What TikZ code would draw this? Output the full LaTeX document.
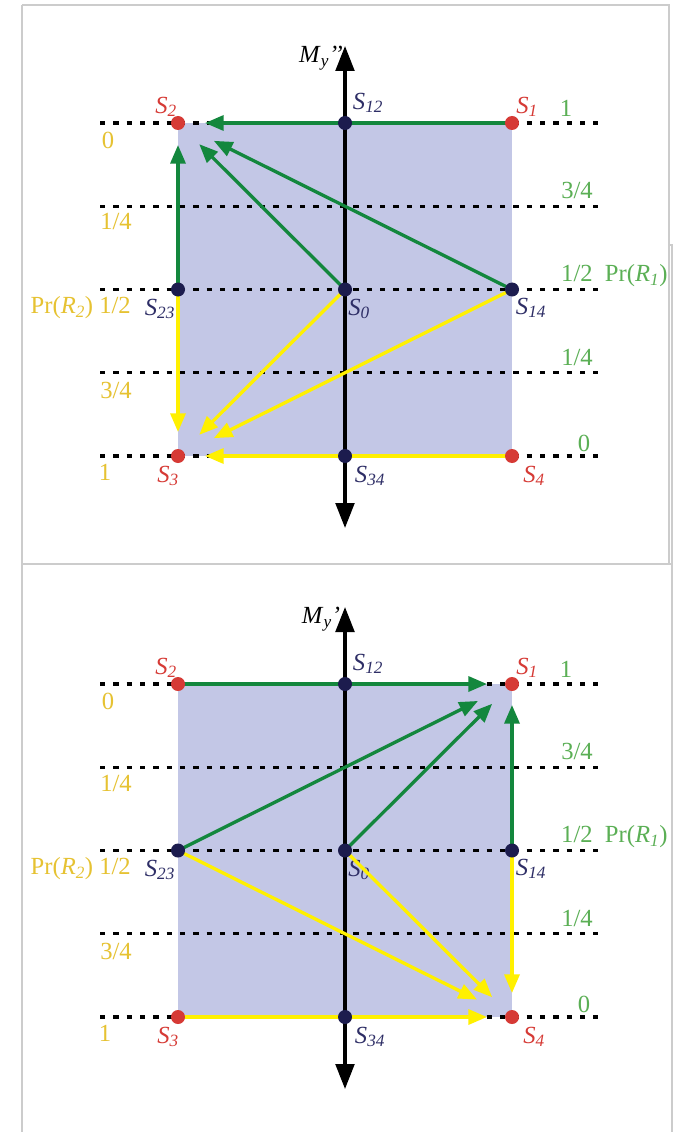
\documentclass[tikz,border=0pt]{standalone}
\usepackage{fontspec}
\setmainfont{Liberation Serif}
\usetikzlibrary{arrows.meta}
\definecolor{sqfill}{HTML}{C3C7E6}
\definecolor{garr}{HTML}{13873D}
\definecolor{yarr}{HTML}{FFF000}
\definecolor{gtxt}{HTML}{5BAF55}
\definecolor{ytxt}{HTML}{E6C232}
\definecolor{redd}{HTML}{D63A35}
\definecolor{navyd}{HTML}{1C1C4E}
\definecolor{navyt}{HTML}{2E2E66}
\definecolor{framec}{HTML}{CCCCCC}
\newcommand\Slab[1]{\textit{S}\textsubscript{\textit{#1}}}
\newcommand\basepanel[2]{%
  \fill[sqfill] (178,123) rectangle (512,456);
  \foreach \yy in {123,206.25,289.5,372.75,456} \draw[dotline] (100,\yy) -- (598,\yy);
  \coordinate (#1S1) at (512,123);
  \coordinate (#1S2) at (178,123);
  \coordinate (#1S3) at (178,456);
  \coordinate (#1S4) at (512,456);
  \coordinate (#1S12) at (345,123);
  \coordinate (#1S34) at (345,456);
  \coordinate (#1S23) at (178,289.5);
  \coordinate (#1S14) at (512,289.5);
  \coordinate (#1S0) at (345,289.5);
  \coordinate (#1top) at (345,46);
  \coordinate (#1bot) at (345,528);
  \draw[axisline] (#1bot) -- (#1top);
  \node[font=\fontsize{21}{25}\selectfont,inner sep=0pt] (#1My) at (321,58) {\textit{M}\textsubscript{\textit{y}}\textit{#2}};
  \node[redt] (#1l2) at (166,107) {\Slab{2}};
  \node[navt] (#1l12) at (368,103) {\Slab{12}};
  \node[redt] (#1l1) at (527,107) {\Slab{1}};
  \node[navt] (#1l23) at (160,309) {\Slab{23}};
  \node[navt] (#1l0) at (359,309) {\Slab{0}};
  \node[navt] (#1l14) at (531,308) {\Slab{14}};
  \node[redt] (#1l3) at (168,476) {\Slab{3}};
  \node[navt] (#1l34) at (370,476) {\Slab{34}};
  \node[redt] (#1l4) at (534,476) {\Slab{4}};
  \node[grt] (#1g1) at (566,108) {1};
  \node[grt] (#1g2) at (577,190) {3/4};
  \node[grt,anchor=west] (#1g3) at (561,276) {1/2\ \ Pr(\textit{R}\textsubscript{\textit{1}})};
  \node[grt] (#1g4) at (577,357) {1/4};
  \node[grt] (#1g5) at (584,443) {0};
  \node[yet] (#1y1) at (108,140) {0};
  \node[yet] (#1y2) at (116,222) {1/4};
  \node[yet,anchor=east] (#1y3) at (131,308) {Pr(\textit{R}\textsubscript{\textit{2}})\ 1/2};
  \node[yet] (#1y4) at (116,390) {3/4};
  \node[yet] (#1y5) at (105,472) {1};
}
\newcommand\dotpanel[1]{%
  \node[reddot] (#1d1) at (#1S1) {};
  \node[reddot] (#1d2) at (#1S2) {};
  \node[reddot] (#1d3) at (#1S3) {};
  \node[reddot] (#1d4) at (#1S4) {};
  \node[navdot] (#1d12) at (#1S12) {};
  \node[navdot] (#1d34) at (#1S34) {};
  \node[navdot] (#1d23) at (#1S23) {};
  \node[navdot] (#1d14) at (#1S14) {};
  \node[navdot] (#1d0) at (#1S0) {};
}
\begin{document}
\begin{tikzpicture}[x=0.03cm,y=-0.03cm,
  dotline/.style={line width=0.1cm,dash pattern=on 0.16cm off 0.24cm},
  axisline/.style={line width=0.1cm,black,{Triangle[length=0.75cm,width=0.56cm]}-{Triangle[length=0.75cm,width=0.56cm]}},
  garrow/.style={line width=0.1cm,garr,-{Triangle[length=0.56cm,width=0.45cm]}},
  yarrow/.style={line width=0.1cm,yarr,-{Triangle[length=0.56cm,width=0.45cm]}},
  sh/.style={shorten >=#1*0.03cm},
  redt/.style={text=redd,font=\fontsize{21}{25}\selectfont,inner sep=0pt},
  navt/.style={text=navyt,font=\fontsize{21}{25}\selectfont,inner sep=0pt},
  grt/.style={text=gtxt,font=\fontsize{21}{25}\selectfont,inner sep=0pt},
  yet/.style={text=ytxt,font=\fontsize{21}{25}\selectfont,inner sep=0pt},
  reddot/.style={circle,fill=redd,minimum size=0.42cm,inner sep=0pt},
  navdot/.style={circle,fill=navyd,minimum size=0.42cm,inner sep=0pt},
  frameline/.style={framec,line width=0.035cm}]
\useasboundingbox[fill=white] (0,0) rectangle (679,1132);
% frames
\draw[frameline] (22,5) -- (669,5) -- (669,564);
\draw[frameline] (669,245) -- (672,245) -- (672,1132);
\draw[frameline] (22,5) -- (22,1132);
\draw[frameline] (22,564) -- (672,564);
% top panel
\basepanel{a}{’’}
\draw[garrow,sh=27] (aS1) -- (aS2);
\draw[garrow,sh=22] (aS23) -- (aS2);
\draw[garrow,sh=30] (aS0) -- (aS2);
\draw[garrow,sh=40] (aS14) -- (aS2);
\draw[yarrow,sh=24] (aS23) -- (aS3);
\draw[yarrow,sh=30] (aS0) -- (aS3);
\draw[yarrow,sh=40] (aS14) -- (aS3);
\draw[yarrow,sh=27] (aS4) -- (aS3);
\dotpanel{a}
% bottom panel
\begin{scope}[shift={(0,561)}]
\basepanel{b}{’}
\draw[garrow,sh=25] (bS2) -- (bS1);
\draw[garrow,sh=38] (bS23) -- (bS1);
\draw[garrow,sh=28] (bS0) -- (bS1);
\draw[garrow,sh=21] (bS14) -- (bS1);
\draw[yarrow,sh=39] (bS23) -- (bS4);
\draw[yarrow,sh=28] (bS0) -- (bS4);
\draw[yarrow,sh=24] (bS14) -- (bS4);
\draw[yarrow,sh=25] (bS3) -- (bS4);
\dotpanel{b}
\end{scope}
\end{tikzpicture}
\end{document}
